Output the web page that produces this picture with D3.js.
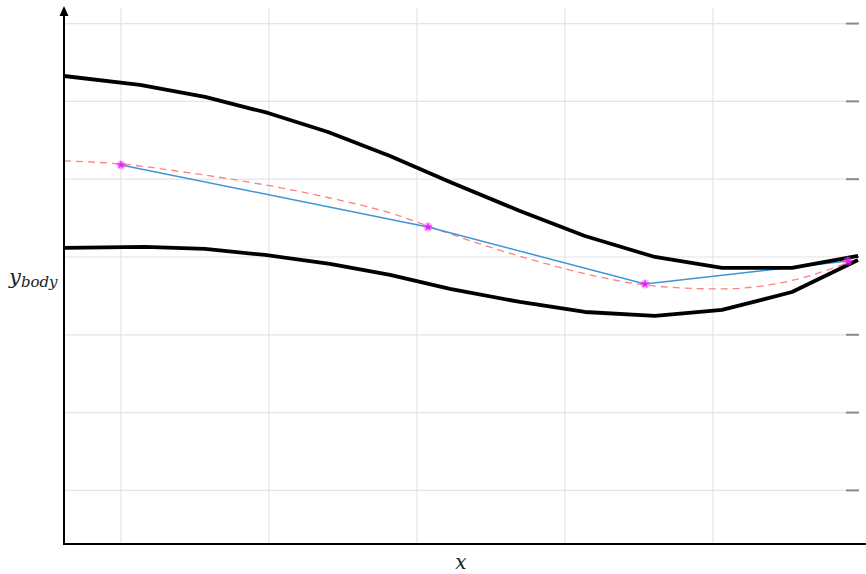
<!DOCTYPE html>
<html><head><meta charset="utf-8">
<script src="https://cdn.jsdelivr.net/npm/d3@7"></script>
<style>body{margin:0;background:#fff}svg{display:block}</style>
</head><body>
<svg id="c" width="866" height="574"></svg>
<script>
// data (x in grid units, y in grid units)
const upperX = [-0.385, 0.128, 0.568, 0.993, 1.399, 1.818, 2.223, 2.696, 3.135, 3.608, 4.061, 4.534, 4.98];
const upperY = [2.326, 2.211, 2.057, 1.851, 1.607, 1.298, 0.964, 0.591, 0.270, 0.0, -0.141, -0.141, 0.013];
const lowerX = [-0.385, 0.162, 0.568, 0.973, 1.412, 1.818, 2.223, 2.696, 3.135, 3.608, 4.061, 4.534, 4.98];
const lowerY = [0.116, 0.129, 0.103, 0.026, -0.090, -0.231, -0.411, -0.578, -0.707, -0.758, -0.681, -0.450, -0.039];
const dashX = [-0.385, 0, 0.466, 0.939, 1.412, 1.818, 2.074, 2.426, 2.831, 3.236, 3.541, 4.047, 4.520, 4.959];
const dashY = [1.234, 1.195, 1.080, 0.938, 0.758, 0.566, 0.398, 0.167, -0.064, -0.257, -0.360, -0.411, -0.308, -0.039];
const ptX = [0, 2.074, 3.541, 4.912];
const ptY = [1.183, 0.386, -0.347, -0.051];
const xTicks = [0, 1, 2, 3, 4];
const yTicks = [-3, -2, -1, 0, 1, 2, 3];
const xLabel = "x";

const svg = d3.select("#c");
const x = d3.scaleLinear().domain([-0.385, 5.034]).range([64, 866]);
const y = d3.scaleLinear().domain([-3.689, 3.2]).range([544, 8]);

// grid
svg.append("g").selectAll("line").data(xTicks).join("line")
  .attr("x1", d => x(d)).attr("x2", d => x(d)).attr("y1", 8).attr("y2", 544)
  .attr("stroke", "#e4e4e4").attr("stroke-width", 1.2);
svg.append("g").selectAll("line").data(yTicks).join("line")
  .attr("x1", 64).attr("x2", 846).attr("y1", d => y(d)).attr("y2", d => y(d))
  .attr("stroke", "#e4e4e4").attr("stroke-width", 1.2);
// right-side tick marks
svg.append("g").selectAll("line").data(yTicks).join("line")
  .attr("x1", 846).attr("x2", 859).attr("y1", d => y(d)).attr("y2", d => y(d))
  .attr("stroke", "#8a8a8a").attr("stroke-width", 2);

const line = d3.line().x(d => x(d[0])).y(d => y(d[1]));
const zip = (a, b) => a.map((v, i) => [v, b[i]]);

svg.append("path").attr("d", line.curve(d3.curveMonotoneX)(zip(dashX, dashY)))
  .attr("fill", "none").attr("stroke", "#ff8080").attr("stroke-width", 1.3)
  .attr("stroke-dasharray", "7,5");
svg.append("path").attr("d", d3.line().x(d => x(d[0])).y(d => y(d[1]))(zip(ptX, ptY)))
  .attr("fill", "none").attr("stroke", "#3d94d8").attr("stroke-width", 1.5);

const lin = d3.line().x(d => x(d[0])).y(d => y(d[1])).curve(d3.curveLinear);
svg.append("path").attr("d", lin(zip(upperX, upperY)))
  .attr("fill", "none").attr("stroke", "#000").attr("stroke-width", 3.8).attr("stroke-linejoin", "round");
svg.append("path").attr("d", lin(zip(lowerX, lowerY)))
  .attr("fill", "none").attr("stroke", "#000").attr("stroke-width", 3.8).attr("stroke-linejoin", "round");

// markers
svg.append("g").selectAll("circle").data(zip(ptX, ptY)).join("circle")
  .attr("cx", d => x(d[0])).attr("cy", d => y(d[1])).attr("r", 4.5)
  .attr("fill", "#ff40ff").attr("opacity", 0.45);
svg.append("g").selectAll("path").data(zip(ptX, ptY)).join("path")
  .attr("transform", d => `translate(${x(d[0])},${y(d[1])})`)
  .attr("d", d3.symbol(d3.symbolStar, 22)())
  .attr("fill", "#e020ff");

// axes
svg.append("line").attr("x1", 64).attr("x2", 64).attr("y1", 14).attr("y2", 545)
  .attr("stroke", "#000").attr("stroke-width", 2);
svg.append("path").attr("d", "M64,6 L68.5,16 L59.5,16 Z").attr("fill", "#000");
svg.append("line").attr("x1", 63).attr("x2", 866).attr("y1", 544).attr("y2", 544)
  .attr("stroke", "#000").attr("stroke-width", 2);

// labels
const yl = svg.append("text").attr("x", 9).attr("y", 284)
  .attr("font-family", "DejaVu Serif").attr("font-style", "italic").attr("font-size", 21).attr("fill", "#222");
yl.append("tspan").text("y");
yl.append("tspan").attr("font-size", 15).attr("dy", 3).text("body");
svg.append("text").attr("x", 461).attr("y", 569).attr("text-anchor", "middle")
  .attr("font-family", "DejaVu Serif").attr("font-style", "italic").attr("font-size", 20).attr("fill", "#222")
  .text(xLabel);
</script>
</body></html>
